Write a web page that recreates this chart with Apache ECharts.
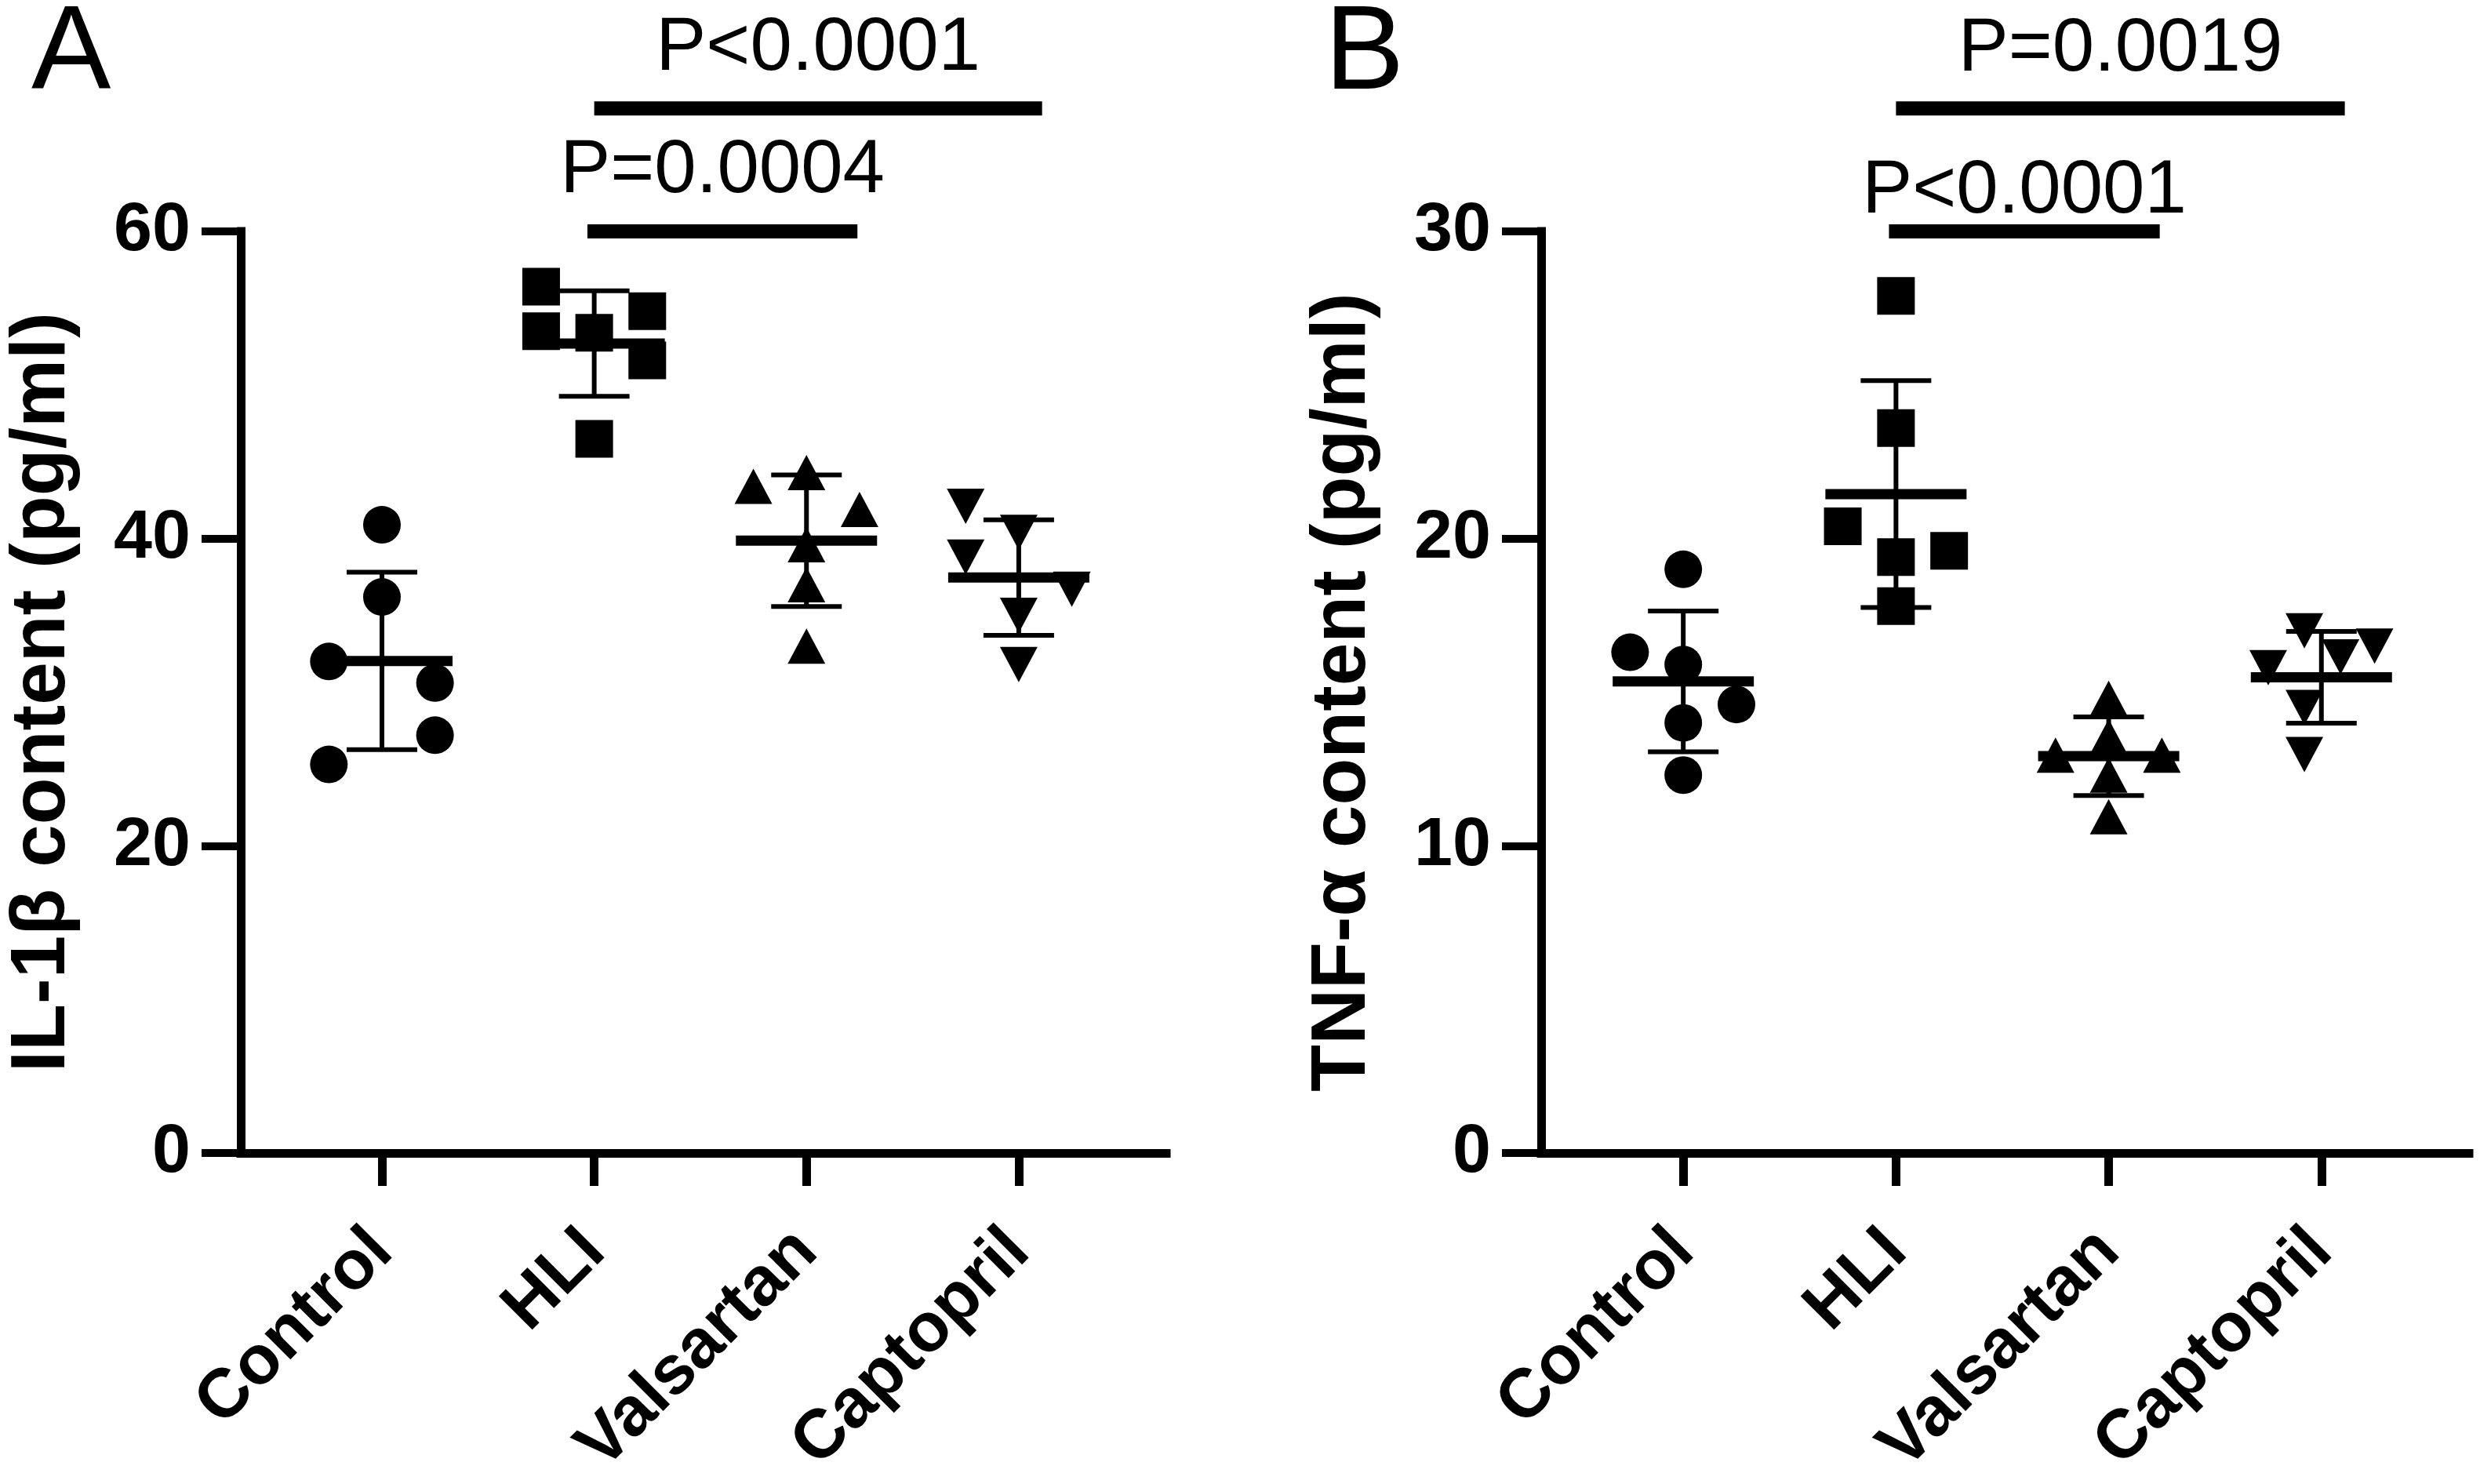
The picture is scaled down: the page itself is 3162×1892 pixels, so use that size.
<!DOCTYPE html>
<html><head><meta charset="utf-8">
<script src="https://cdn.jsdelivr.net/npm/echarts@6/dist/echarts.min.js"></script>
<style>html,body{margin:0;padding:0;background:#fff}#c{width:3162px;height:1892px}</style>
</head><body><div id="c"></div>
<script>
// ---------------- DATA ----------------
const categories = ['Control', 'HLI', 'Valsartan', 'Captopril'];

// Panel A: IL-1β content (pg/ml)
const il1bControl   = [40.9, 36.2, 32.0, 30.6, 27.2, 25.3];
const il1bHLI       = [56.4, 54.8, 53.5, 53.4, 51.6, 46.5];
const il1bValsartan = [43.4, 44.3, 41.9, 39.6, 37.0, 33.0];
const il1bCaptopril = [42.1, 40.4, 38.8, 36.7, 35.0, 31.8];
// horizontal scatter (jitter) of each point, in category units
const il1bJitter = [
  [0, 0, -0.25, 0.25, 0.25, -0.25],
  [-0.25, 0.25, -0.25, 0, 0.25, 0],
  [-0.25, 0, 0.25, 0, 0, 0],
  [-0.25, 0, -0.25, 0.25, 0, 0]
];
const il1bTicks = [0, 20, 40, 60];
const il1bPValues = ['P<0.0001', 'P=0.0004'];

// Panel B: TNF-α content (pg/ml)
const tnfControl   = [19.0, 16.3, 15.9, 14.6, 14.0, 12.3];
const tnfHLI       = [27.9, 23.6, 20.4, 19.6, 19.4, 17.8];
const tnfValsartan = [14.8, 13.55, 12.95, 12.95, 12.3, 10.95];
const tnfCaptopril = [17.0, 16.5, 16.15, 15.8, 14.5, 12.97];
const tnfJitter = [
  [0, -0.25, 0, 0.25, 0, 0],
  [0, 0, -0.25, 0.25, 0, 0],
  [0, 0, -0.25, 0.25, 0, 0],
  [-0.08, 0.25, 0.09, -0.25, -0.08, -0.08]
];
const tnfTicks = [0, 10, 20, 30];
const tnfPValues = ['P=0.0019', 'P<0.0001'];

// ---------------- LAYOUT / STYLE ----------------
const FONT = '"Liberation Sans", Arial, sans-serif';
const symbols = [
  { symbol: 'circle', size: 48, rotate: 0 },
  { symbol: 'rect', size: 48, rotate: 0 },
  { symbol: 'triangle', size: [48, 45], rotate: 0 },
  { symbol: 'triangle', size: [48, 45], rotate: 180 }
];
// bracket layout: [x start, x end, bar y, text y] in axis units
const il1bBracketLayout = [[2.0, 4.11, 68.0, 71.85], [1.968, 3.24, 60.0, 63.9]];
const tnfBracketLayout  = [[2.0, 4.11, 34.0, 35.9], [1.967, 3.24, 30.0, 31.28]];

function meanSd(a) {
  const m = a.reduce((s, v) => s + v, 0) / a.length;
  const sd = Math.sqrt(a.reduce((s, v) => s + (v - m) * (v - m), 0) / (a.length - 1));
  return [m, sd];
}

function renderErr(params, api) {
  const x = api.value(0), m = api.value(1), s = api.value(2);
  const c = api.coord([x, m]), t = api.coord([x, m + s]), b = api.coord([x, m - s]);
  const st = { stroke: '#000', lineWidth: 6 };
  return {
    type: 'group', children: [
      { type: 'line', shape: { x1: c[0], y1: t[1], x2: c[0], y2: b[1] }, style: st },
      { type: 'line', shape: { x1: c[0] - 45, y1: t[1], x2: c[0] + 45, y2: t[1] }, style: st },
      { type: 'line', shape: { x1: c[0] - 45, y1: b[1], x2: c[0] + 45, y2: b[1] }, style: st },
      { type: 'line', shape: { x1: c[0] - 90, y1: c[1], x2: c[0] + 90, y2: c[1] }, style: { stroke: '#000', lineWidth: 13 } }
    ]
  };
}

function makeBracketRenderer(labels) {
  return function (params, api) {
    const x1 = api.value(0), x2 = api.value(1), y = api.value(2), ty = api.value(3);
    const p1 = api.coord([x1, y]), p2 = api.coord([x2, y]), pt = api.coord([(x1 + x2) / 2, ty]);
    return {
      type: 'group', children: [
        { type: 'line', shape: { x1: p1[0], y1: p1[1], x2: p2[0], y2: p2[1] }, style: { stroke: '#000', lineWidth: 18 } },
        { type: 'text', x: pt[0], y: pt[1], style: { text: labels[params.dataIndex], fill: '#000', font: 'normal 96px ' + FONT, align: 'center', verticalAlign: 'middle' } }
      ]
    };
  };
}

function xAxisFor(gridIndex, min, max) {
  return {
    type: 'value', gridIndex, min, max,
    axisLine: { show: true, onZero: false, lineStyle: { color: '#000', width: 11, cap: 'square' } },
    axisTick: { show: true, length: 42, lineStyle: { color: '#000', width: 11 }, customValues: [1, 2, 3, 4] },
    axisLabel: {
      customValues: [1, 2, 3, 4], formatter: v => categories[Math.round(v) - 1],
      rotate: 45, margin: 112, fontSize: 88, fontWeight: 'bold', color: '#000', fontFamily: FONT
    },
    splitLine: { show: false }
  };
}
function yAxisFor(gridIndex, ticks, name) {
  return {
    type: 'value', gridIndex, min: ticks[0], max: ticks[ticks.length - 1], interval: ticks[1] - ticks[0],
    axisLine: { show: true, onZero: false, lineStyle: { color: '#000', width: 11, cap: 'square' } },
    axisTick: { show: true, length: 50, lineStyle: { color: '#000', width: 10 } },
    axisLabel: { margin: 64, fontSize: 88, fontWeight: 'bold', color: '#000', fontFamily: FONT },
    splitLine: { show: false },
    name, nameLocation: 'middle', nameGap: 203,
    nameTextStyle: { fontSize: 98, fontWeight: 'bold', color: '#000', fontFamily: FONT }
  };
}

const panels = [
  { groups: [il1bControl, il1bHLI, il1bValsartan, il1bCaptopril], jitter: il1bJitter, labels: il1bPValues, brackets: il1bBracketLayout },
  { groups: [tnfControl, tnfHLI, tnfValsartan, tnfCaptopril], jitter: tnfJitter, labels: tnfPValues, brackets: tnfBracketLayout }
];

const series = [];
panels.forEach((p, pi) => {
  series.push({
    type: 'custom', xAxisIndex: pi, yAxisIndex: pi, renderItem: renderErr, silent: true, z: 2,
    data: p.groups.map((g, gi) => { const ms = meanSd(g); return [gi + 1, ms[0], ms[1]]; })
  });
  p.groups.forEach((g, gi) => {
    series.push({
      type: 'scatter', xAxisIndex: pi, yAxisIndex: pi, silent: true, z: 3,
      symbol: symbols[gi].symbol, symbolSize: symbols[gi].size, symbolRotate: symbols[gi].rotate,
      itemStyle: { color: '#000', opacity: 1 },
      data: g.map((v, i) => [gi + 1 + p.jitter[gi][i], v])
    });
  });
  series.push({
    type: 'custom', xAxisIndex: pi, yAxisIndex: pi, renderItem: makeBracketRenderer(p.labels), silent: true, clip: false, z: 4,
    data: p.brackets
  });
});

const chart = echarts.init(document.getElementById('c'), null, { renderer: 'canvas' });
chart.setOption({
  backgroundColor: '#fff',
  animation: false,
  grid: [
    { left: 307, top: 295, width: 1180, height: 1176 },
    { left: 1965, top: 295, width: 1183, height: 1176 }
  ],
  xAxis: [xAxisFor(0, 0.335, 4.695), xAxisFor(1, 0.332, 4.694)],
  yAxis: [yAxisFor(0, il1bTicks, 'IL-1β content (pg/ml)'), yAxisFor(1, tnfTicks, 'TNF-α content (pg/ml)')],
  graphic: [
    { type: 'text', x: 40, y: 71, style: { text: 'A', fill: '#000', font: 'normal 152px ' + FONT, align: 'left', verticalAlign: 'middle' } },
    { type: 'text', x: 1689, y: 71, style: { text: 'B', fill: '#000', font: 'normal 152px ' + FONT, align: 'left', verticalAlign: 'middle' } }
  ],
  series
});
</script></body></html>
